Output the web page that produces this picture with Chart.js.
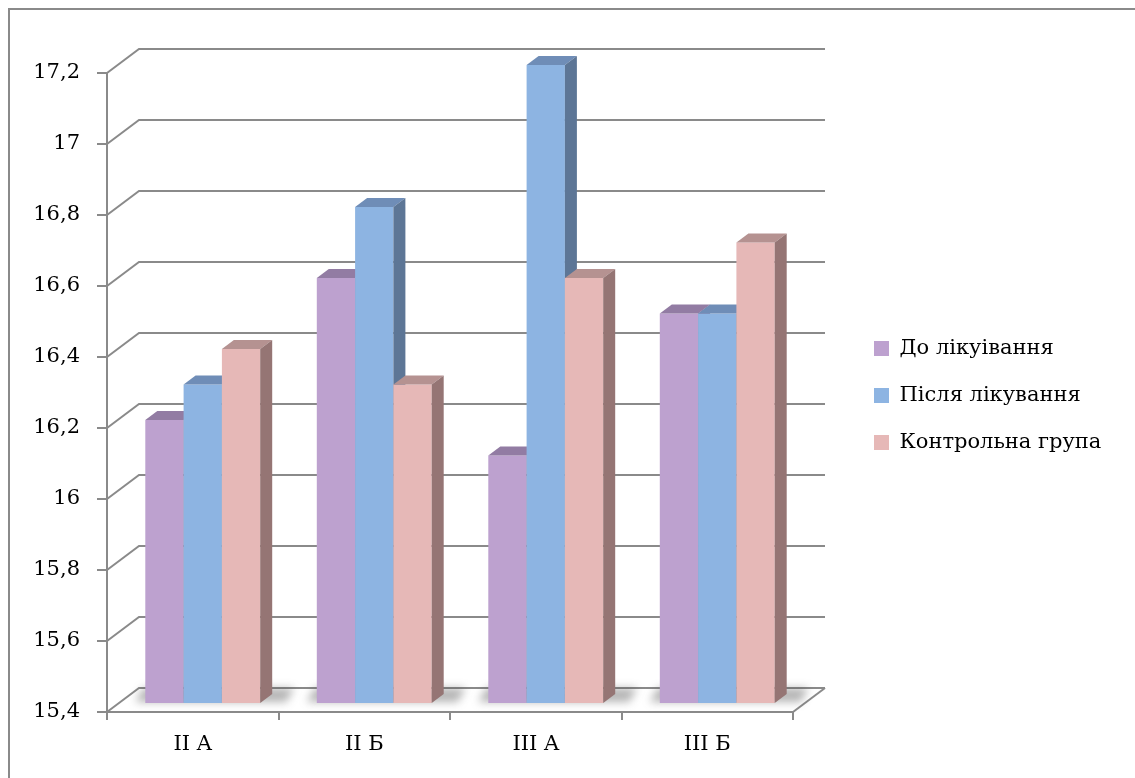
<!DOCTYPE html>
<html>
<head>
<meta charset="utf-8">
<script src="https://cdn.jsdelivr.net/npm/chart.js@4.4.1/dist/chart.umd.min.js"></script>
<style>
  html, body { margin: 0; padding: 0; background: #ffffff; overflow: hidden; }
  canvas { display: block; }
</style>
</head>
<body>
<canvas id="chart" width="1135" height="778"></canvas>
<script>
// ---- data ----
const categories = ['II A', 'II Б', 'III A', 'III Б'];
const seriesNames = ['До лікуівання', 'Після лікування', 'Контрольна група'];
const beforeTreatment = [16.2, 16.6, 16.1, 16.5];
const afterTreatment = [16.3, 16.8, 17.2, 16.5];
const controlGroup = [16.4, 16.3, 16.6, 16.7];
const yMin = 15.4;
const yMax = 17.2;
const yStep = 0.2;

// ---- styling ----
const frontColors = ['#bda1cf', '#8db4e2', '#e6b8b7'];
const topColors = ['#927ca3', '#6f8db7', '#b59291'];
const sideColors = ['#8b779a', '#5d7696', '#957574'];
const lineGray = '#8a8a8a';
const FONT = 'DejaVu Serif';

// depth of the side/back walls, offset of the bar row and bar thickness
const WALL_DX = 32, WALL_DY = -24;
const ROW_DX = 10, ROW_DY = -8;
const BAR_DX = 12, BAR_DY = -9;

function fmt(v) {
  return String(Math.round(v * 10) / 10).replace('.', ',');
}

function poly(ctx, pts, fill) {
  ctx.beginPath();
  ctx.moveTo(pts[0][0], pts[0][1]);
  for (let i = 1; i < pts.length; i++) ctx.lineTo(pts[i][0], pts[i][1]);
  ctx.closePath();
  ctx.fillStyle = fill;
  ctx.fill();
}

const box3d = {
  id: 'box3d',
  afterLayout(chart) {
    // legend sits to the right of the plot
    const lg = chart.legend;
    lg.left = 848;
    lg.right = 1135;
    lg.width = lg.right - lg.left;
    lg.top = 312;
    lg.bottom = 778;
    lg.height = lg.bottom - lg.top;
  },
  beforeDraw(chart) {
    const ctx = chart.ctx;
    ctx.save();
    ctx.fillStyle = '#ffffff';
    ctx.fillRect(0, 0, chart.width, chart.height);
    ctx.strokeStyle = lineGray;
    ctx.lineWidth = 2;
    ctx.strokeRect(9, 9, 1400, 1000);
    ctx.restore();
  },
  beforeDatasetsDraw(chart) {
    const ctx = chart.ctx;
    const area = chart.chartArea;
    const ys = chart.scales.y;
    ctx.save();
    ctx.strokeStyle = lineGray;
    ctx.lineWidth = 2;
    // side wall diagonals and back wall gridlines
    ys.ticks.forEach(t => {
      const y = ys.getPixelForValue(t.value);
      ctx.beginPath();
      ctx.moveTo(area.left, y);
      ctx.lineTo(area.left + WALL_DX, y + WALL_DY);
      ctx.lineTo(area.right + WALL_DX, y + WALL_DY);
      ctx.stroke();
    });
    // right edge of the floor
    const yb = ys.getPixelForValue(yMin);
    ctx.beginPath();
    ctx.moveTo(area.right, yb);
    ctx.lineTo(area.right + WALL_DX, yb + WALL_DY);
    ctx.stroke();

    // soft shadows of the bar groups on the floor
    const first = chart.getDatasetMeta(0).data;
    const last = chart.getDatasetMeta(2).data;
    ctx.filter = 'blur(4px)';
    first.forEach((el, i) => {
      const L = el.x - el.width / 2 + ROW_DX;
      const r = last[i];
      const R = r.x + r.width / 2 + ROW_DX + BAR_DX;
      const b = el.base + ROW_DY;
      poly(ctx, [[L - 10, b - 1], [R + 14, b - 1], [R + 22, b - 15], [L - 2, b - 15]], 'rgba(70,70,70,0.4)');
    });
    ctx.filter = 'none';
    ctx.restore();
  },
  // bars are painted below, left to right, so each box hides the one behind it
  beforeDatasetDraw() {
    return false;
  },
  afterDatasetsDraw(chart) {
    const ctx = chart.ctx;
    ctx.save();
    ctx.translate(ROW_DX, ROW_DY);
    chart.data.datasets.forEach((ds, di) => {
      chart.getDatasetMeta(di).data.forEach(el => {
        el.draw(ctx);
        const L = el.x - el.width / 2;
        const R = el.x + el.width / 2;
        const T = el.y;
        const B = el.base;
        poly(ctx, [[L, T], [R, T], [R + BAR_DX, T + BAR_DY], [L + BAR_DX, T + BAR_DY]], topColors[di]);
        poly(ctx, [[R, T], [R + BAR_DX, T + BAR_DY], [R + BAR_DX, B + BAR_DY], [R, B]], sideColors[di]);
      });
    });
    ctx.restore();
  }
};

const seriesData = [beforeTreatment, afterTreatment, controlGroup];

new Chart(document.getElementById('chart'), {
  type: 'bar',
  data: {
    labels: categories,
    datasets: seriesData.map((values, i) => ({
      label: seriesNames[i],
      data: values,
      base: yMin,
      backgroundColor: frontColors[i],
      borderColor: frontColors[i],
      borderWidth: 0,
      clip: false,
      barPercentage: 1,
      categoryPercentage: 0.67
    }))
  },
  options: {
    responsive: false,
    animation: false,
    events: [],
    layout: { padding: { left: 10, top: 73, right: 342, bottom: 0 } },
    font: { family: FONT, size: 21 },
    color: '#000000',
    plugins: {
      tooltip: { enabled: false },
      legend: {
        position: 'chartArea',
        align: 'start',
        labels: {
          boxWidth: 15,
          boxHeight: 15,
          padding: 26,
          color: '#000000',
          font: { family: FONT, size: 21 }
        }
      }
    },
    scales: {
      x: {
        type: 'category',
        offset: true,
        afterFit: s => { s.height = 66; },
        grid: {
          offset: true,
          drawOnChartArea: false,
          drawTicks: true,
          tickLength: 8,
          color: lineGray,
          lineWidth: 2
        },
        border: { display: true, color: lineGray, width: 2 },
        ticks: {
          padding: 12,
          color: '#000000',
          font: { family: FONT, size: 21 },
          maxRotation: 0
        }
      },
      y: {
        min: yMin,
        max: yMax,
        afterFit: s => { s.width = 97; },
        grid: {
          drawOnChartArea: false,
          drawTicks: true,
          tickLength: 10,
          color: lineGray,
          lineWidth: 2
        },
        border: { display: true, color: lineGray, width: 2 },
        ticks: {
          stepSize: yStep,
          padding: 17,
          color: '#000000',
          font: { family: FONT, size: 21 },
          callback: v => fmt(v)
        }
      }
    }
  },
  plugins: [box3d]
});
</script>
</body>
</html>
